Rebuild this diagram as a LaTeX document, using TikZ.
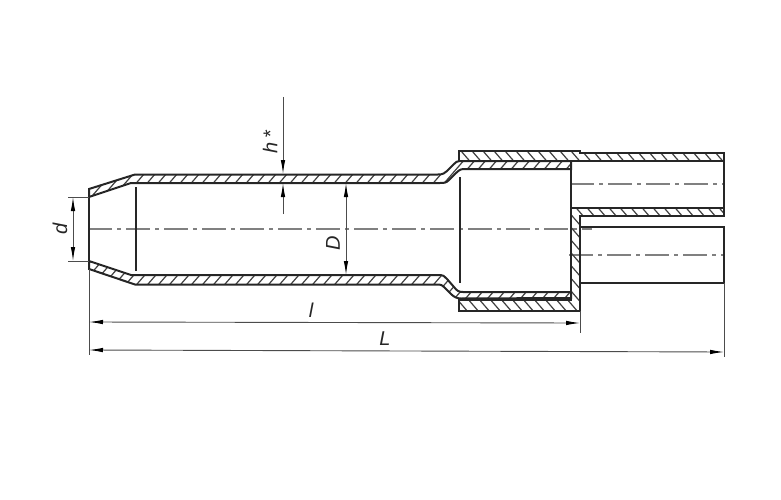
\documentclass[tikz,border=0pt]{standalone}
\usepackage{fontspec}
\setmainfont{Liberation Sans}
\usetikzlibrary{arrows.meta}
\definecolor{dimgrey}{gray}{0.3}
\definecolor{axisgrey}{gray}{0.5}
\tikzset{
  outline/.style={line width=2pt,draw=black!85},
  thinedge/.style={line width=1.8pt,draw=black!85},
  hatchstroke/.style={line width=1.2pt,draw=black!75},
  axisline/.style={line width=1.2pt,draw=axisgrey,dash pattern=on 24pt off 5pt on 4pt off 5pt},
  dimline/.style={line width=0.9pt,draw=dimgrey},
  dimarrow/.style={dimline,{Latex[length=14pt,width=4.5pt,black]}-{Latex[length=14pt,width=4.5pt,black]}},
  dimhead/.style={dimline,-{Latex[length=14pt,width=4.5pt,black]}},
  dimlabel/.style={font=\itshape\fontsize{20}{20}\selectfont,text=black!85,inner sep=0pt}
}
% one wall of the section: hatch clipped to the path, then its outline
\newcommand{\hatchedwall}[2]{%
  \begin{scope}
    \clip #1;
    \foreach \hx in {-100,-89,...,1000}
      \draw [hatchstroke] (\hx,100) -- +(#2,220);
  \end{scope}
  \draw [outline] #1;
}
\begin{document}
\begin{tikzpicture}[x=1pt,y=-1pt]
  \useasboundingbox (0,0) rectangle (781,500);

  % Marking dimension points
  \coordinate (tipTop) at (89,197);
  \coordinate (tipBot) at (89,261);
  \coordinate (dTop) at (73,197);
  \coordinate (dBot) at (73,261);
  \coordinate (dTopExt) at (68,197);
  \coordinate (dBotExt) at (68,261);
  \coordinate (hStart) at (283,97);
  \coordinate (hOuter) at (283,174);
  \coordinate (hInner) at (283,183);
  \coordinate (hEnd) at (283,214);
  \coordinate (bigTop) at (346,183);
  \coordinate (bigBot) at (346,275);
  \coordinate (leftFoot) at (89,269);
  \coordinate (leftEnd) at (89,355);
  \coordinate (sleeveFoot) at (580,311);
  \coordinate (sleeveEnd) at (580,333);
  \coordinate (branchFoot) at (724,283);
  \coordinate (branchEnd) at (724,357);
  \coordinate (lLeft) at (89,322);
  \coordinate (lRight) at (580,323);
  \coordinate (bigLLeft) at (89,350);
  \coordinate (bigLRight) at (724,352);

  % Drawing axes
  \draw [axisline] (88,229) -- (592,229);
  \draw [axisline] (570,184) -- (724,184);
  \draw [axisline] (569,255) -- (724,255);

  % Drawing top wall of inner tube
  \hatchedwall{(89,189) -- (135,174.5) -- (438,174.5) .. controls (443,174.5) and (445,173) .. (447,171) -- (454,164) .. controls (456,162) and (457,161) .. (460,161) -- (571,161) -- (571,169) -- (464,169) .. controls (460,169) and (458,171) .. (456,173) -- (449,180) .. controls (446,183) and (444,183) .. (440,183) -- (131,183) -- (89,197) -- cycle}{-190}

  % Drawing bottom wall of inner tube
  \hatchedwall{(89,261) -- (131,275) -- (438,275) .. controls (443,275) and (445,276) .. (447,279) -- (454,287) .. controls (457,291) and (459,292) .. (463,292) -- (571,292) -- (571,298) -- (461,298.5) .. controls (457,298.5) and (454,297) .. (451,294) -- (445,288) .. controls (442,285) and (441,284.5) .. (437,284.5) -- (135,284.5) -- (89,269) -- cycle}{-190}

  % Drawing upper sleeve and upper branch
  \hatchedwall{(459,150.5) -- (580,150.5) -- (580,152.5) -- (724,152.5) -- (724,161) -- (459,161) -- cycle}{190}

  % Drawing lower branch wall, riser and lower sleeve
  \hatchedwall{(571,208) -- (724,208) -- (724,216) -- (580,216) -- (580,311) -- (459,311) -- (459,299.5) -- (571,299.5) -- cycle}{190}

  % Drawing remaining edges
  \draw [thinedge] (tipTop) -- (tipBot);
  \draw [thinedge] (136,187) -- (136,271);
  \draw [thinedge] (460,177) -- (460,283);
  \draw [thinedge] (571,161) -- (571,208);
  \draw [thinedge] (724,161) -- (724,208);
  \draw [thinedge] (580,227) -- (724,227) -- (724,283) -- (580,283);

  % Drawing extension lines
  \draw [dimline] (dTopExt) -- (tipTop);
  \draw [dimline] (dBotExt) -- (tipBot);
  \draw [dimline] (leftFoot) -- (leftEnd);
  \draw [dimline] (sleeveFoot) -- (sleeveEnd);
  \draw [dimline] (branchFoot) -- (branchEnd);

  % Drawing dimension lines
  \draw [dimarrow] (dTop) -- (dBot);
  \draw [dimhead] (hStart) -- (hOuter);
  \draw [dimhead] (hEnd) -- (hInner);
  \draw [dimarrow] (bigTop) -- (bigBot);
  \draw [dimarrow] (lLeft) -- (lRight);
  \draw [dimarrow] (bigLLeft) -- (bigLRight);

  % Marking labels
  \node [dimlabel,rotate=90] (dLabel) at (60,229) {d};
  \node [dimlabel,rotate=90] (hLabel) at (270,142) {h\,*};
  \node [dimlabel,rotate=90] (bigDLabel) at (333,243) {D};
  \node [dimlabel] (lLabel) at (311,310) {l};
  \node [dimlabel] (bigLLabel) at (385,339) {L};
\end{tikzpicture}
\end{document}
